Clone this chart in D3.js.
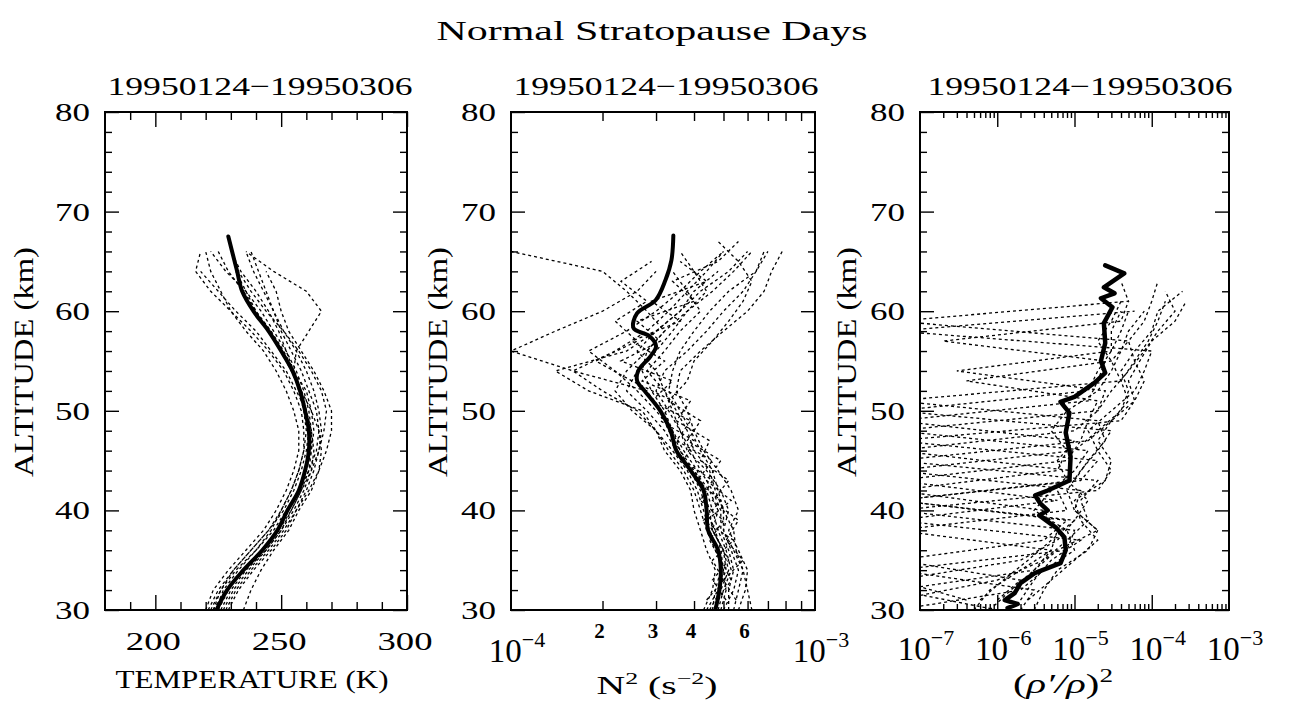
<!DOCTYPE html>
<html><head><meta charset="utf-8">
<script src="https://cdn.jsdelivr.net/npm/d3@7"></script>
<style>
body{margin:0;background:#fff}
svg{display:block}
text{font-family:"Liberation Serif","Times New Roman",serif;fill:#000}
</style>
</head><body>
<svg id="c" width="1291" height="706"></svg>
<script>
// ---------------- DATA ----------------
const chartTitle = "Normal Stratopause Days";
const periodLabel = "19950124\u221219950306";
const altitudeLabel = "ALTITUDE (km)";
const altMajorTicks = [30, 40, 50, 60, 70, 80];
const altMinorTicks = [32,34,36,38,42,44,46,48,52,54,56,58,62,64,66,68,72,74,76,78];

// Panel 1: temperature (K)
const tempMajorTicks = [200, 250, 300];
const tempMinorTicks = [190, 210, 220, 230, 240, 260, 270, 280, 290];
const tempMeanAlt = [30,32,34,36,38,40,42,44,46,48,50,52,54,56,58,60,62,64,66,67.5];
const tempMean    = [224.3,228.5,235,242.5,248.5,252.5,257,259.5,261,261,259.5,257.5,254.5,250,245,239,234.5,232.5,230.5,229];
const tempAlt = [30,32,34,36,38,40,42,44,46,48,50,52,54,56,58,60,62,64,66];
const tempProfiles = [
  [235,238,242,247,253,257,262,265,266,265,262,258,254,250,245,240,236,232,null],
  [220,223,229,236,243,248,252,255,257,257,255,252,248,243,236,230,226,222,220],
  [222,226,232,240,247,252,257,261,264,265,264,261,258,254,250,247,243,239,236],
  [226,230,236,244,250,255,259,262,263,262,260,256,252,246,240,232,225,218,null],
  [224,227,233,240,246,250,254,257,259,260,259,257,255,252,249,245,240,234,230],
  [228,232,238,245,251,256,261,265,268,270,270,267,263,258,253,250,248,244,null],
  [223,228,235,243,249,253,257,260,262,263,262,260,255,256,261,266,260,247,236],
  [221,225,231,238,245,250,254,257,259,259,258,255,251,245,238,230,222,216,218],
  [227,231,237,244,250,254,258,261,262,262,261,259,256,252,247,242,236,228,222],
  [225,229,235,243,249,254,258,262,265,267,268,266,262,257,251,244,238,233,null],
  [223,226,231,238,245,251,255,258,260,261,260,258,255,251,246,240,235,229,225],
  [229,233,239,246,252,256,260,263,265,266,265,263,260,256,251,247,244,241,238]
];

// Panel 2: N^2, values in units of 1e-4 s^-2
const n2Unit = 1e-4;
const n2MinorTicks = [2,3,4,5,6,7,8,9];
const n2MinorLabels = [2,3,4,6];
const n2MeanAlt = [30,32,34,36,38,40,42,44,46,48,50,52,53,54,55.5,56.5,57.5,58.3,59.8,61.1,63.1,65.1,67.6];
const n2Mean    = [4.7,4.85,4.9,4.8,4.45,4.4,4.3,3.9,3.5,3.35,3.1,2.75,2.6,2.62,2.88,3.0,2.85,2.53,2.6,2.99,3.22,3.37,3.42];
const n2AltEven = [30,32,34,36,38,40,42,44,46,48,50,52,54,56,58,60,62,64,66];
const n2AltOdd  = [31,33,35,37,39,41,43,45,47,49,51,53,55,57,59,61,63,65,67];
const n2ProfilesEven = [
  [4.5,4.9,5.2,5.0,4.6,4.8,4.5,4.0,3.6,3.4,3.0,2.6,2.2,1.8,2.4,3.0,3.6,4.2,5.0],
  [5.0,5.4,5.6,5.3,5.0,5.2,4.9,4.4,3.8,3.6,3.3,3.0,3.2,3.8,4.4,5.0,5.8,6.4,7.0],
  [4.3,4.6,4.7,4.4,4.2,4.0,3.9,3.6,3.2,3.0,2.6,2.0,1.6,1.0,1.4,2.0,2.6,3.0,null],
  [5.6,5.9,6.0,5.6,5.2,5.6,5.3,4.8,4.3,4.0,3.8,3.5,3.6,4.2,5.0,6.0,6.8,7.2,7.8],
  [4.8,5.0,5.3,5.1,4.8,4.6,4.4,4.0,3.5,3.2,2.8,2.4,2.6,3.0,3.4,3.8,4.6,5.4,6.2],
  [4.6,4.7,4.9,4.8,4.5,4.3,4.1,3.8,3.4,3.0,2.5,2.2,2.4,2.8,3.2,2.8,2.4,2.0,1.0],
  [6.2,6.0,5.8,5.5,5.4,5.0,4.7,4.5,4.0,3.8,3.5,3.2,2.8,3.2,3.6,4.2,3.8,3.4,null],
  [4.4,4.8,5.0,4.9,4.7,4.4,4.2,3.9,3.6,3.3,3.1,2.8,1.6,2.2,2.8,3.3,3.8,4.4,5.0],
  [5.2,5.2,5.4,5.2,4.9,4.9,4.6,4.2,3.9,3.6,3.4,3.2,3.0,2.6,3.0,3.6,4.0,4.8,null],
  [4.9,5.1,5.0,4.7,4.4,4.2,4.0,3.7,3.3,3.0,2.7,1.8,1.4,2.4,3.0,3.6,4.2,5.2,6.0],
  [5.4,5.6,5.8,5.4,5.0,5.0,4.8,4.6,4.2,3.9,3.6,3.3,3.4,3.6,4.0,4.5,5.2,6.4,6.8],
  [4.7,4.8,5.1,5.0,4.6,4.5,4.3,4.1,3.7,3.4,3.2,2.9,2.7,2.8,3.2,3.8,4.4,4.0,3.6]
];
const n2ProfilesOdd = [
  [4.4,5.0,4.6,5.4,4.3,4.9,4.1,4.6,3.5,3.9,2.9,3.4,2.3,3.1,2.6,4.0,3.4,4.8,5.6],
  [5.5,5.0,5.8,5.1,5.6,4.6,5.2,4.2,4.5,3.5,3.9,2.7,3.2,2.5,3.6,2.9,4.4,3.6,null],
  [4.8,5.3,4.9,4.5,5.0,4.2,4.6,3.7,4.0,3.1,3.4,2.5,1.9,2.6,2.2,2.8,2.3,2.9,null],
  [5.1,4.6,5.2,4.8,4.4,5.3,4.4,4.9,3.8,4.2,3.3,3.8,4.0,4.6,5.2,5.8,6.2,5.6,4.8]
];

// Panel 3: (rho'/rho)^2
const rhoDecades = [1e-7, 1e-6, 1e-5, 1e-4, 1e-3];
const rhoMeanAlt = [30.2,30.6,31,31.7,32.7,33.7,34.7,36,37.3,38.3,39.5,40,40.7,41.5,42,43,45.4,47.8,49.8,50.9,51.4,52.8,53.8,55,56.8,58.8,60.4,61.3,61.8,62.4,63.8,64.6];
const rhoMean    = [1.36e-6,1.84e-6,1.25e-6,1.68e-6,2.0e-6,3.05e-6,6.6e-6,7.7e-6,7.4e-6,5.7e-6,3.5e-6,4.5e-6,3.6e-6,3.1e-6,4.5e-6,8.6e-6,8.9e-6,7.7e-6,8.6e-6,6.6e-6,1.0e-5,1.81e-5,2.5e-5,2.2e-5,2.5e-5,2.4e-5,3.1e-5,2.2e-5,3.3e-5,2.4e-5,4.4e-5,2.5e-5];
const rhoAltEven = [30,32,34,36,38,40,42,44,46,48,50,52,54,56,58,60,62];
const rhoAltOdd  = [31,33,35,37,39,41,43,45,47,49,51,53,55,57,59,61,63];
const rhoProfilesEven = [
  [5e-7,8e-7,2e-6,5e-6,6e-6,4e-6,5e-8,6e-6,8e-6,5e-6,8e-6,2e-5,3e-5,4e-5,5e-5,8e-5,null],
  [5e-8,2e-6,4e-6,1e-5,8e-6,3e-6,5e-6,1e-5,1.5e-5,5e-8,2e-5,3e-5,5e-5,8e-5,1.2e-4,2e-4,1.5e-4],
  [1e-6,5e-8,3e-6,6e-6,2e-5,1e-5,8e-6,1.2e-5,2e-5,3e-5,5e-8,1.5e-5,2e-5,3e-5,4e-5,5e-5,null],
  [2e-6,3e-6,5e-8,8e-6,1e-5,5e-8,2e-5,3e-5,2e-5,1.5e-5,3e-5,6e-5,8e-5,1e-4,5e-8,6e-5,null],
  [3e-6,4e-6,6e-6,1.5e-5,2e-5,1e-5,1.2e-5,5e-8,1e-5,2e-5,4e-5,5e-5,4e-5,6e-5,1e-4,1.2e-4,2.5e-4],
  [8e-7,1.5e-6,3e-6,5e-6,5e-8,8e-6,6e-6,9e-6,5e-8,1e-5,2e-5,2.5e-5,3e-7,3e-5,3e-5,4e-5,null]
];
const rhoProfilesOdd = [
  [4e-7,5e-8,2e-6,6e-6,1e-5,5e-8,1e-5,1.5e-5,2.5e-5,2e-5,5e-8,4e-5,6e-5,9e-5,1.2e-4,1.5e-4,null],
  [2e-6,3e-6,5e-6,1.2e-5,5e-8,6e-6,5e-8,8e-6,1.2e-5,1.5e-5,2e-5,4e-7,3e-5,5e-5,5e-8,5e-5,4e-5],
  [5e-8,1e-6,4e-6,8e-6,1.5e-5,1.2e-5,2e-5,5e-8,1.5e-5,3e-5,5e-5,4e-5,3e-5,2e-5,3e-5,4e-5,null],
  [1e-6,2e-6,5e-8,4e-6,8e-6,5e-8,1.2e-5,2e-5,5e-8,4e-5,6e-5,8e-5,6e-5,5e-5,8e-5,1e-4,1.2e-4],
  [6e-7,1.2e-6,2.5e-6,5e-6,1e-5,1.5e-5,8e-6,6e-6,1e-5,5e-8,1.5e-5,2e-5,2.5e-5,2e-7,4e-5,5e-5,null],
  [2.5e-6,5e-6,1e-5,2e-5,1.2e-5,1e-5,2.5e-5,3e-5,2e-5,3e-5,6e-5,5e-5,7e-5,1e-4,2e-4,2.8e-4,null]
];

// ---------------- DRAWING ----------------
const svg = d3.select("#c");
svg.append("rect").attr("width",1291).attr("height",706).attr("fill","#fff");

function txt(parent, str, x, y, o = {}) {
  const t = parent.append("text")
    .attr("x", x).attr("y", y)
    .attr("font-size", o.size || 26)
    .attr("text-anchor", o.anchor || "middle")
    .text(str);
  if (o.len) t.attr("textLength", o.len).attr("lengthAdjust", "spacingAndGlyphs");
  if (o.rotate) t.attr("transform", `rotate(${o.rotate},${x},${y})`);
  return t;
}

const yScale = d3.scaleLinear([30, 80], [610, 112]);

txt(svg, chartTitle, 652, 40, {size: 27, len: 431});

const panels = [
  { id: "p1", x: d3.scaleLinear([180, 300], [105, 407]), titleX: 260, ylabX: 33 },
  { id: "p2", x: d3.scaleLog([1e-4, 1e-3], [511, 815]), titleX: 666, ylabX: 447 },
  { id: "p3", x: d3.scaleLog([1e-7, 1e-3], [920, 1229]), titleX: 1080, ylabX: 856 }
];

const dotStyle = g => g.attr("fill","none").attr("stroke","#000").attr("stroke-width",1.3).attr("stroke-dasharray","3,3");
const meanStyle = (g,w) => g.attr("fill","none").attr("stroke","#000").attr("stroke-width",w).attr("stroke-linejoin","round").attr("stroke-linecap","round");

function addTicks(g, xs, xMajor, xMinor, xMajLen, xMinLen) {
  const [x0, x1] = xs.range();
  const [yb, yt] = yScale.range();
  const sets = [
    [d3.axisBottom(xs), `translate(0,${yb})`, xMajor, xMajLen],
    [d3.axisBottom(xs), `translate(0,${yb})`, xMinor, xMinLen],
    [d3.axisTop(xs), `translate(0,${yt})`, xMajor, xMajLen],
    [d3.axisTop(xs), `translate(0,${yt})`, xMinor, xMinLen],
    [d3.axisLeft(yScale), `translate(${x0},0)`, altMajorTicks, 14],
    [d3.axisLeft(yScale), `translate(${x0},0)`, altMinorTicks, 7],
    [d3.axisRight(yScale), `translate(${x1},0)`, altMajorTicks, 14],
    [d3.axisRight(yScale), `translate(${x1},0)`, altMinorTicks, 7]
  ];
  sets.forEach(([ax, tr, vals, len]) => {
    const a = g.append("g").attr("transform", tr)
      .call(ax.tickValues(vals).tickSize(-len).tickFormat(""));
    a.select(".domain").remove();
    a.selectAll("line").attr("stroke","#000").attr("stroke-width",1.4);
  });
}

panels.forEach((p, i) => {
  const g = svg.append("g");
  const [x0, x1] = p.x.range();
  const [yb, yt] = yScale.range();
  g.append("clipPath").attr("id", "clip" + i).append("rect")
    .attr("x", x0).attr("y", yt).attr("width", x1 - x0).attr("height", yb - yt);
  const plot = g.append("g").attr("clip-path", `url(#clip${i})`);

  txt(g, periodLabel, p.titleX, 95, {size: 26, len: 305});
  txt(g, altitudeLabel, p.ylabX, 362, {size: 27, len: 230, rotate: -90});
  altMajorTicks.forEach(v => txt(g, String(v), x0 - 15, yScale(v) + 9, {size: 26, len: 35, anchor: "end"}));

  p.g = g; p.plot = plot;
});

// ---- Panel 1
(() => {
  const p = panels[0], xs = p.x;
  const line = d3.line().defined(d => d[1] != null).x(d => xs(d[1])).y(d => yScale(d[0]));
  tempProfiles.forEach(prof => {
    p.plot.append("path").datum(tempAlt.map((a, k) => [a, prof[k]])).attr("d", line).call(dotStyle);
  });
  const mline = d3.line().curve(d3.curveCatmullRom).x(d => xs(d[1])).y(d => yScale(d[0]));
  p.plot.append("path").datum(tempMeanAlt.map((a, k) => [a, tempMean[k]])).attr("d", mline).call(meanStyle, 4);
  addTicks(p.g, xs, tempMajorTicks, tempMinorTicks, 15, 8);
  tempMajorTicks.forEach(v => txt(p.g, String(v), xs(v) - 2, 650, {size: 26, len: 55}));
  txt(p.g, "TEMPERATURE (K)", 252, 688, {size: 26, len: 273});
})();

// ---- Panel 2
(() => {
  const p = panels[1], xs = p.x;
  const line = d3.line().defined(d => d[1] != null).x(d => xs(d[1] * n2Unit)).y(d => yScale(d[0]));
  n2ProfilesEven.forEach(prof => {
    p.plot.append("path").datum(n2AltEven.map((a, k) => [a, prof[k]])).attr("d", line).call(dotStyle);
  });
  n2ProfilesOdd.forEach(prof => {
    p.plot.append("path").datum(n2AltOdd.map((a, k) => [a, prof[k]])).attr("d", line).call(dotStyle);
  });
  const mline = d3.line().curve(d3.curveCatmullRom).x(d => xs(d[1] * n2Unit)).y(d => yScale(d[0]));
  p.plot.append("path").datum(n2MeanAlt.map((a, k) => [a, n2Mean[k]])).attr("d", mline).call(meanStyle, 4);
  addTicks(p.g, xs, [], n2MinorTicks.map(v => v * n2Unit), 14, 9);
  n2MinorLabels.forEach(v => txt(p.g, String(v), xs(v * n2Unit) - 3, 638, {size: 21}).attr("font-weight", "bold"));
  [1e-4, 1e-3].forEach(v => {
    const t = p.g.append("text").attr("x", xs(v) + 6).attr("y", 662).attr("text-anchor","middle").attr("font-size", 33);
    t.append("tspan").text("10");
    t.append("tspan").attr("font-size", 22).attr("dy", -15).text("\u2212" + (-Math.round(Math.log10(v))));
  });
  const t = p.g.append("text").attr("x", 657).attr("y", 694).attr("text-anchor","middle").attr("font-size", 26)
    .attr("textLength", 121).attr("lengthAdjust","spacingAndGlyphs");
  t.append("tspan").text("N");
  t.append("tspan").attr("font-size", 17).attr("dy", -10).text("2");
  t.append("tspan").attr("dy", 10).text("\u00a0(s");
  t.append("tspan").attr("font-size", 17).attr("dy", -10).text("\u22122");
  t.append("tspan").attr("dy", 10).text(")");
})();

// ---- Panel 3
(() => {
  const p = panels[2], xs = p.x;
  const line = d3.line().defined(d => d[1] != null).x(d => xs(d[1])).y(d => yScale(d[0]));
  rhoProfilesEven.forEach(prof => {
    p.plot.append("path").datum(rhoAltEven.map((a, k) => [a, prof[k]])).attr("d", line).call(dotStyle);
  });
  rhoProfilesOdd.forEach(prof => {
    p.plot.append("path").datum(rhoAltOdd.map((a, k) => [a, prof[k]])).attr("d", line).call(dotStyle);
  });
  p.plot.append("path").datum(rhoMeanAlt.map((a, k) => [a, rhoMean[k]])).attr("d", line).call(meanStyle, 4.5);
  const minors = [];
  rhoDecades.slice(0, -1).forEach(d => [2,3,4,5,6,7,8,9].forEach(m => minors.push(d * m)));
  addTicks(p.g, xs, rhoDecades.slice(1, -1), minors, 15, 6);
  rhoDecades.forEach(v => {
    const t = p.g.append("text").attr("x", xs(v) + 6).attr("y", 660).attr("text-anchor","middle").attr("font-size", 33);
    t.append("tspan").text("10");
    t.append("tspan").attr("font-size", 22).attr("dy", -15).text("\u2212" + (-Math.round(Math.log10(v))));
  });
  const t = p.g.append("text").attr("x", 1063).attr("y", 693).attr("text-anchor","middle").attr("font-size", 27)
    .attr("textLength", 100).attr("lengthAdjust","spacingAndGlyphs");
  t.append("tspan").text("(");
  t.append("tspan").attr("font-style","italic").text("\u03c1\u2032/\u03c1");
  t.append("tspan").text(")");
  t.append("tspan").attr("font-size", 18).attr("dy", -11).text("2");
})();

// frames
panels.forEach(p => {
  const [x0, x1] = p.x.range();
  const [yb, yt] = yScale.range();
  p.g.append("rect").attr("x", x0).attr("y", yt).attr("width", x1 - x0).attr("height", yb - yt)
    .attr("fill","none").attr("stroke","#000").attr("stroke-width",2);
});
</script>
</body></html>
